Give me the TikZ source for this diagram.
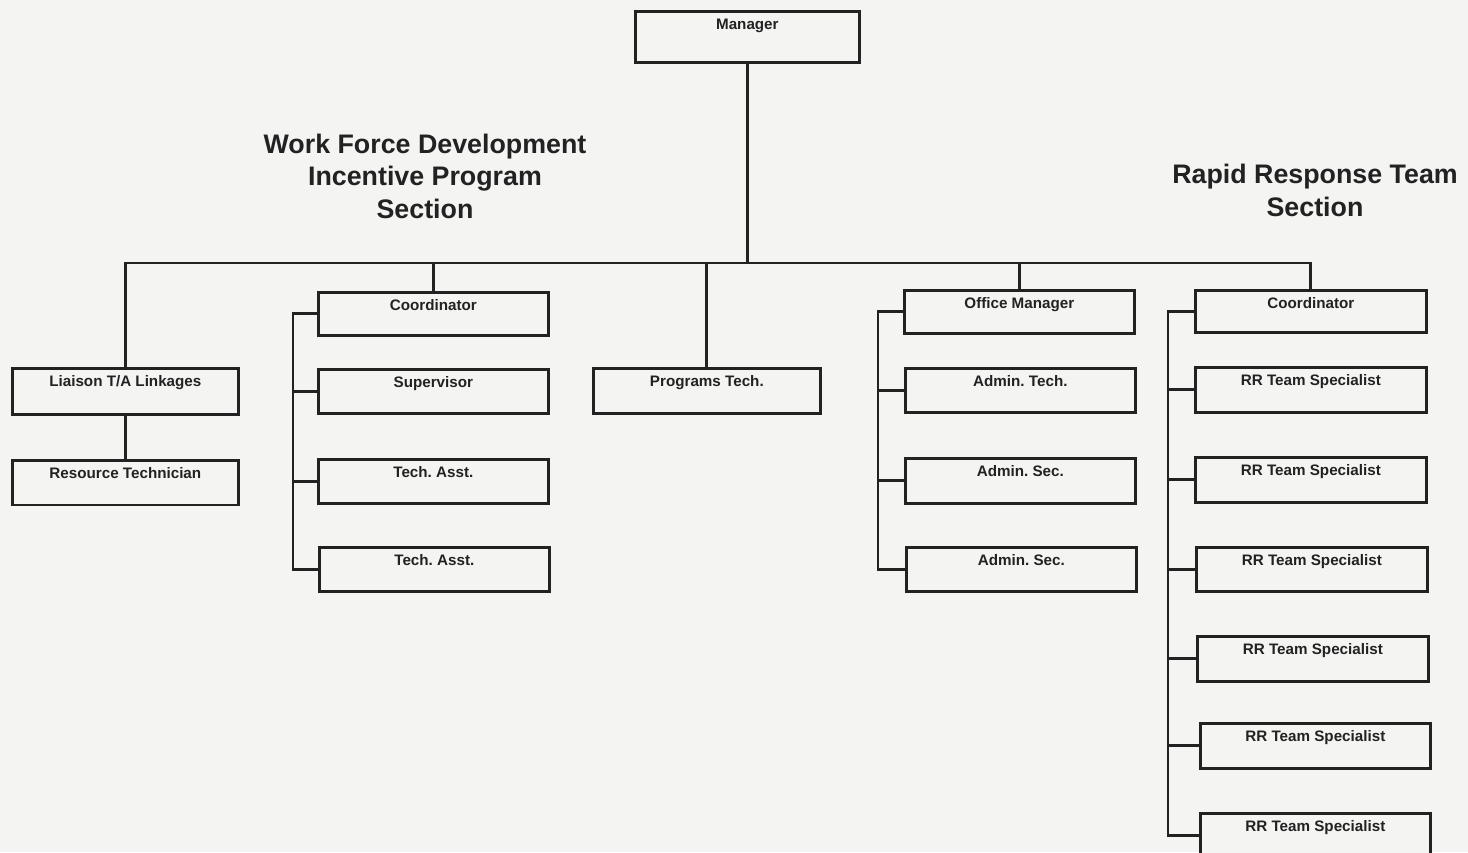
\documentclass[tikz,border=0pt]{standalone}
\usepackage{fontspec}
\setmainfont{Liberation Sans}
\frenchspacing
\begin{document}
\begin{tikzpicture}[x=1pt,y=-1pt,
  ink/.style={draw=inkc, line width=2.7pt},
  % box: #1 = width, #2 = text depth (box height minus 18.5)
  post/.style 2 args={ink, fill=paper, inner sep=0pt, anchor=north west,
    minimum width=#1, text height=18.5pt, text depth=#2,
    font=\bfseries\fontsize{15.2}{17}\selectfont, text=inkc},
  wire/.style={draw=inkc, line width=2.8pt, line cap=rect},
  heading/.style={font=\bfseries\fontsize{26.8}{32.5}\selectfont, align=center, text=inkc}]
\definecolor{paper}{RGB}{244,244,243}
\definecolor{inkc}{RGB}{34,34,34}

\fill[paper] (0,0) rectangle (1468,852);
\useasboundingbox (0,0) rectangle (1468,852);
\clip (0,0) rectangle (1468,852);

% section headings
\node[heading] (wfhead) at (425,176) {Work Force Development\\Incentive Program\\Section};
\node[heading] (rrhead) at (1315,190.5) {Rapid Response Team\\Section};

% top box
\node[post={224}{32.5}] (mgr) at (634,10) {Manager};

% Work Force Development branch
\node[post={226}{27.5}] (liaison) at (11,367) {Liaison T/A Linkages};
\node[post={226}{26}] (restech) at (11,459) {Resource Technician};
\node[post={230}{24.5}] (wcoord) at (317,291) {Coordinator};
\node[post={230}{25.5}] (superv) at (317,368) {Supervisor};
\node[post={230}{25.5}] (techa) at (317,458) {Tech. Asst.};
\node[post={230}{25.5}] (techb) at (318,546) {Tech. Asst.};

% middle
\node[post={227}{26.5}] (progt) at (592,367) {Programs Tech.};

% office branch
\node[post={230}{24.5}] (offm) at (903,289) {Office Manager};
\node[post={230}{25.5}] (admt) at (904,367) {Admin. Tech.};
\node[post={230}{26.5}] (adms) at (904,457) {Admin. Sec.};
\node[post={230}{25.5}] (admsb) at (905,546) {Admin. Sec.};

% Rapid Response Team branch
\node[post={231}{23.5}] (rcoord) at (1194,289) {Coordinator};
\node[post={231}{26.5}] (rra) at (1194,366) {RR Team Specialist};
\node[post={231}{26.5}] (rrb1) at (1194,456) {RR Team Specialist};
\node[post={231}{25.5}] (rrc) at (1195,546) {RR Team Specialist};
\node[post={231}{26.5}] (rrd) at (1196,635) {RR Team Specialist};
\node[post={230}{26.5}] (rre) at (1199,722) {RR Team Specialist};
\node[post={230}{26.5}] (rrf) at (1199,812) {RR Team Specialist};

% connector guide points
\coordinate (busy) at (0,263);
\coordinate (bus) at (mgr.south |- busy);
\coordinate (wfb) at (293,0);
\coordinate (omb) at (878,0);
\coordinate (rrb) at (1168,0);

% trunk and bus
\draw[wire] (mgr.south) -- (bus);
\draw[wire] (liaison.north) |- (bus) -| (rcoord.north);
\draw[wire] (wcoord.north) -- (wcoord.north |- bus);
\draw[wire] (progt.north) -- (progt.north |- bus);
\draw[wire] (offm.north) -- (offm.north |- bus);
\draw[wire] (liaison.south) -- (restech.north);

% Work Force bracket
\draw[wire] (wcoord.west) -| (wfb |- techb.west) -- (techb.west);
\draw[wire] (superv.west) -- (superv.west -| wfb);
\draw[wire] (techa.west) -- (techa.west -| wfb);

% office bracket
\draw[wire] (offm.west) -| (omb |- admsb.west) -- (admsb.west);
\draw[wire] (admt.west) -- (admt.west -| omb);
\draw[wire] (adms.west) -- (adms.west -| omb);

% Rapid Response bracket
\draw[wire] (rcoord.west) -| (rrb |- rrf.west) -- (rrf.west);
\foreach \n in {rra,rrb1,rrc,rrd,rre}
  \draw[wire] (\n.west) -- (\n.west -| rrb);

\end{tikzpicture}
\end{document}
